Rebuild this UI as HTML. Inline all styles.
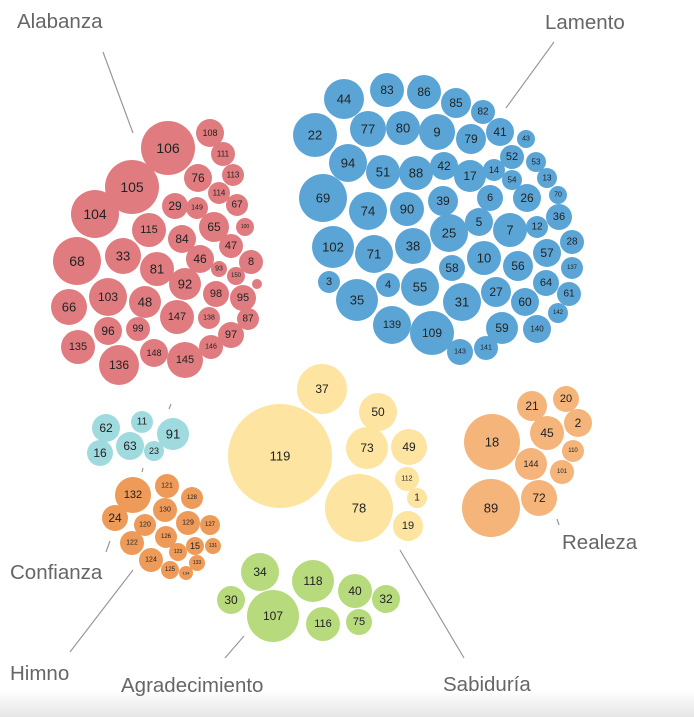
<!DOCTYPE html>
<html><head><meta charset="utf-8"><style>
html,body{margin:0;padding:0;background:#fff;}
svg{display:block;}
text{font-family:"Liberation Sans",sans-serif;}
.n{fill:#222;text-anchor:middle;dominant-baseline:central;}
.l{fill:#666;font-size:20.5px;}
</style></head><body>
<svg width="694" height="717" viewBox="0 0 694 717" xmlns="http://www.w3.org/2000/svg">
<defs><linearGradient id="bg" x1="0" y1="0" x2="0" y2="1"><stop offset="0" stop-color="#fff"/><stop offset="1" stop-color="#e6e6e6"/></linearGradient></defs>
<rect x="0" y="690" width="694" height="27" fill="url(#bg)"/>
<g stroke="#999" stroke-width="1.2">
<line x1="103" y1="52" x2="133" y2="133"/>
<line x1="554" y1="42" x2="506" y2="108"/>
<line x1="106" y1="552" x2="110" y2="541"/>
<line x1="70" y1="652" x2="133" y2="570"/>
<line x1="225" y1="658" x2="244" y2="636"/>
<line x1="400" y1="550" x2="464" y2="658"/>
<line x1="557" y1="519" x2="559" y2="525"/>
<line x1="171" y1="404" x2="169" y2="409"/>
<line x1="143" y1="468" x2="142" y2="472"/>
</g>
<text class="l" x="17" y="28">Alabanza</text>
<text class="l" x="545" y="29">Lamento</text>
<text class="l" x="10" y="579">Confianza</text>
<text class="l" x="10" y="680">Himno</text>
<text class="l" x="121" y="692">Agradecimiento</text>
<text class="l" x="443" y="691">Sabiduría</text>
<text class="l" x="562" y="549">Realeza</text>

<!-- red -->
<g fill="#e07c80">
<circle cx="168" cy="148" r="27"/><circle cx="210" cy="133" r="14"/><circle cx="223" cy="154" r="12"/><circle cx="233" cy="175" r="11"/>
<circle cx="132" cy="187" r="27"/><circle cx="198" cy="178" r="14"/><circle cx="219" cy="193" r="11"/><circle cx="237" cy="205" r="11"/>
<circle cx="95" cy="214" r="24"/><circle cx="175" cy="206" r="13"/><circle cx="197" cy="208" r="11"/><circle cx="214" cy="227" r="15"/><circle cx="245" cy="227" r="9"/>
<circle cx="149" cy="230" r="17"/><circle cx="182" cy="239" r="14"/><circle cx="231" cy="246" r="12"/>
<circle cx="77" cy="261" r="24"/><circle cx="123" cy="256" r="18"/><circle cx="200" cy="259" r="14"/><circle cx="157" cy="269" r="17"/><circle cx="219" cy="269" r="8"/><circle cx="251" cy="262" r="12"/><circle cx="236" cy="276" r="9"/>
<circle cx="185" cy="284" r="16"/><circle cx="257" cy="284" r="5"/><circle cx="108" cy="297" r="19"/><circle cx="69" cy="307" r="18"/><circle cx="145" cy="302" r="16"/><circle cx="216" cy="294" r="13"/><circle cx="243" cy="298" r="13"/>
<circle cx="177" cy="317" r="17"/><circle cx="209" cy="318" r="11"/><circle cx="248" cy="319" r="11"/><circle cx="108" cy="331" r="14"/><circle cx="138" cy="329" r="12"/><circle cx="231" cy="335" r="13"/>
<circle cx="78" cy="347" r="17"/><circle cx="154" cy="353" r="14"/><circle cx="185" cy="360" r="18"/><circle cx="211" cy="347" r="12"/><circle cx="119" cy="365" r="20"/>
</g>
<g class="n">
<text x="168" y="148" font-size="14">106</text><text x="210" y="133" font-size="9">108</text><text x="223" y="154" font-size="8">111</text><text x="233" y="175" font-size="8">113</text>
<text x="132" y="187" font-size="14">105</text><text x="198" y="178" font-size="12">76</text><text x="219" y="193" font-size="8">114</text><text x="237" y="205" font-size="10">67</text>
<text x="95" y="214" font-size="14">104</text><text x="175" y="206" font-size="12">29</text><text x="197" y="208" font-size="7">149</text><text x="214" y="227" font-size="12">65</text><text x="245" y="227" font-size="5">100</text>
<text x="149" y="230" font-size="11">115</text><text x="182" y="239" font-size="12">84</text><text x="231" y="246" font-size="11">47</text>
<text x="77" y="261" font-size="14">68</text><text x="123" y="256" font-size="13">33</text><text x="200" y="259" font-size="12">46</text><text x="157" y="269" font-size="13">81</text><text x="219" y="269" font-size="7">93</text><text x="251" y="262" font-size="11">8</text><text x="236" y="276" font-size="6">150</text>
<text x="185" y="284" font-size="13">92</text><text x="108" y="297" font-size="12">103</text><text x="69" y="307" font-size="13">66</text><text x="145" y="302" font-size="13">48</text><text x="216" y="294" font-size="11">98</text><text x="243" y="298" font-size="11">95</text>
<text x="177" y="317" font-size="11">147</text><text x="209" y="318" font-size="7">138</text><text x="248" y="319" font-size="10">87</text><text x="108" y="331" font-size="12">96</text><text x="138" y="329" font-size="10">99</text><text x="231" y="335" font-size="11">97</text>
<text x="78" y="347" font-size="11">135</text><text x="154" y="353" font-size="9">148</text><text x="185" y="360" font-size="11">145</text><text x="211" y="347" font-size="7">146</text><text x="119" y="365" font-size="12">136</text>
</g>

<!-- blue -->
<g fill="#5ba5d6">
<circle cx="344" cy="99" r="20"/><circle cx="387" cy="90" r="17"/><circle cx="424" cy="92" r="17"/><circle cx="456" cy="103" r="15"/><circle cx="483" cy="112" r="12"/>
<circle cx="315" cy="135" r="22"/><circle cx="368" cy="129" r="18"/><circle cx="403" cy="128" r="17"/><circle cx="437" cy="132" r="18"/><circle cx="471" cy="139" r="15"/><circle cx="500" cy="132" r="14"/><circle cx="526" cy="139" r="9"/>
<circle cx="512" cy="157" r="12"/><circle cx="536" cy="162" r="10"/><circle cx="348" cy="163" r="19"/><circle cx="383" cy="172" r="17"/><circle cx="416" cy="173" r="17"/><circle cx="444" cy="166" r="14"/><circle cx="470" cy="176" r="16"/><circle cx="494" cy="170" r="11"/><circle cx="512" cy="180" r="10"/><circle cx="547" cy="178" r="10"/>
<circle cx="323" cy="198" r="24"/><circle cx="368" cy="211" r="19"/><circle cx="407" cy="209" r="17"/><circle cx="443" cy="201" r="15"/><circle cx="490" cy="198" r="13"/><circle cx="527" cy="198" r="14"/><circle cx="558" cy="195" r="9"/>
<circle cx="479" cy="222" r="14"/><circle cx="449" cy="233" r="19"/><circle cx="510" cy="230" r="17"/><circle cx="537" cy="227" r="11"/><circle cx="559" cy="217" r="13"/>
<circle cx="333" cy="247" r="21"/><circle cx="374" cy="254" r="19"/><circle cx="413" cy="246" r="18"/><circle cx="484" cy="258" r="17"/><circle cx="518" cy="266" r="15"/><circle cx="547" cy="253" r="14"/><circle cx="572" cy="242" r="12"/><circle cx="452" cy="268" r="13"/><circle cx="572" cy="268" r="11"/>
<circle cx="329" cy="282" r="11"/><circle cx="388" cy="285" r="12"/><circle cx="420" cy="287" r="19"/><circle cx="357" cy="300" r="21"/><circle cx="462" cy="302" r="19"/><circle cx="496" cy="292" r="15"/><circle cx="525" cy="302" r="14"/><circle cx="546" cy="283" r="13"/><circle cx="569" cy="294" r="12"/><circle cx="558" cy="313" r="10"/>
<circle cx="392" cy="325" r="19"/><circle cx="432" cy="333" r="22"/><circle cx="502" cy="328" r="16"/><circle cx="537" cy="329" r="14"/><circle cx="460" cy="352" r="13"/><circle cx="486" cy="348" r="12"/>
</g>
<g class="n">
<text x="344" y="99" font-size="13">44</text><text x="387" y="90" font-size="12">83</text><text x="424" y="92" font-size="12">86</text><text x="456" y="103" font-size="12">85</text><text x="483" y="112" font-size="10">82</text>
<text x="315" y="135" font-size="13">22</text><text x="368" y="129" font-size="13">77</text><text x="403" y="128" font-size="13">80</text><text x="437" y="132" font-size="13">9</text><text x="471" y="139" font-size="12">79</text><text x="500" y="132" font-size="12">41</text><text x="526" y="139" font-size="7">43</text>
<text x="512" y="157" font-size="11">52</text><text x="536" y="162" font-size="8">53</text><text x="348" y="163" font-size="13">94</text><text x="383" y="172" font-size="13">51</text><text x="416" y="173" font-size="13">88</text><text x="444" y="166" font-size="12">42</text><text x="470" y="176" font-size="12">17</text><text x="494" y="170" font-size="9">14</text><text x="512" y="180" font-size="8">54</text><text x="547" y="178" font-size="8">13</text>
<text x="323" y="198" font-size="13">69</text><text x="368" y="211" font-size="13">74</text><text x="407" y="209" font-size="13">90</text><text x="443" y="201" font-size="12">39</text><text x="490" y="198" font-size="11">6</text><text x="527" y="198" font-size="12">26</text><text x="558" y="195" font-size="7">70</text>
<text x="479" y="222" font-size="12">5</text><text x="449" y="233" font-size="13">25</text><text x="510" y="230" font-size="13">7</text><text x="537" y="227" font-size="10">12</text><text x="559" y="217" font-size="11">36</text>
<text x="333" y="247" font-size="13">102</text><text x="374" y="254" font-size="13">71</text><text x="413" y="246" font-size="13">38</text><text x="484" y="258" font-size="13">10</text><text x="518" y="266" font-size="12">56</text><text x="547" y="253" font-size="12">57</text><text x="572" y="242" font-size="10">28</text><text x="452" y="268" font-size="12">58</text><text x="572" y="268" font-size="6">137</text>
<text x="329" y="282" font-size="11">3</text><text x="388" y="285" font-size="11">4</text><text x="420" y="287" font-size="13">55</text><text x="357" y="300" font-size="13">35</text><text x="462" y="302" font-size="13">31</text><text x="496" y="292" font-size="12">27</text><text x="525" y="302" font-size="12">60</text><text x="546" y="283" font-size="11">64</text><text x="569" y="294" font-size="10">61</text><text x="558" y="313" font-size="6">142</text>
<text x="392" y="325" font-size="11">139</text><text x="432" y="333" font-size="12">109</text><text x="502" y="328" font-size="12">59</text><text x="537" y="329" font-size="8">140</text><text x="460" y="352" font-size="7">143</text><text x="486" y="348" font-size="7">141</text>
</g>

<!-- teal -->
<g fill="#9fdadf">
<circle cx="106" cy="428" r="14"/><circle cx="142" cy="422" r="11"/><circle cx="173" cy="434" r="16"/><circle cx="100" cy="453" r="13"/><circle cx="130" cy="446" r="14"/><circle cx="154" cy="451" r="10"/>
</g>
<g class="n">
<text x="106" y="428" font-size="12">62</text><text x="142" y="422" font-size="10">11</text><text x="173" y="434" font-size="13">91</text><text x="100" y="453" font-size="12">16</text><text x="130" y="446" font-size="12">63</text><text x="154" y="451" font-size="9">23</text>
</g>

<!-- orange -->
<g fill="#ee9a58">
<circle cx="133" cy="495" r="18"/><circle cx="167" cy="486" r="12"/><circle cx="192" cy="498" r="11"/><circle cx="115" cy="518" r="13"/><circle cx="165" cy="510" r="12"/><circle cx="145" cy="525" r="11"/><circle cx="188" cy="523" r="12"/><circle cx="210" cy="525" r="10"/>
<circle cx="132" cy="543" r="12"/><circle cx="166" cy="537" r="11"/><circle cx="195" cy="546" r="9"/><circle cx="213" cy="546" r="8"/><circle cx="178" cy="552" r="9"/><circle cx="151" cy="560" r="12"/><circle cx="170" cy="570" r="9"/><circle cx="197" cy="563" r="8"/><circle cx="186" cy="573" r="7"/>
</g>
<g class="n">
<text x="133" y="495" font-size="11">132</text><text x="167" y="486" font-size="7">121</text><text x="192" y="498" font-size="6">128</text><text x="115" y="518" font-size="12">24</text><text x="165" y="510" font-size="7">130</text><text x="145" y="525" font-size="7">120</text><text x="188" y="523" font-size="7">129</text><text x="210" y="525" font-size="6">127</text>
<text x="132" y="543" font-size="7">122</text><text x="166" y="537" font-size="6">126</text><text x="195" y="546" font-size="9">15</text><text x="213" y="546" font-size="5">131</text><text x="178" y="552" font-size="5">123</text><text x="151" y="560" font-size="7">124</text><text x="170" y="570" font-size="6">125</text><text x="197" y="563" font-size="5">133</text><text x="186" y="573" font-size="4">134</text>
</g>

<!-- yellow -->
<g fill="#fde4a0">
<circle cx="280" cy="456" r="52"/><circle cx="322" cy="389" r="25"/><circle cx="378" cy="412" r="19"/><circle cx="367" cy="448" r="21"/><circle cx="409" cy="447" r="18"/><circle cx="407" cy="479" r="12"/><circle cx="417" cy="498" r="10"/><circle cx="359" cy="508" r="34"/><circle cx="408" cy="526" r="15"/>
</g>
<g class="n">
<text x="280" y="456" font-size="13">119</text><text x="322" y="389" font-size="12">37</text><text x="378" y="412" font-size="12">50</text><text x="367" y="448" font-size="12">73</text><text x="409" y="447" font-size="12">49</text><text x="407" y="479" font-size="7">112</text><text x="417" y="498" font-size="10">1</text><text x="359" y="508" font-size="13">78</text><text x="408" y="526" font-size="11">19</text>
</g>

<!-- realeza -->
<g fill="#f4b47a">
<circle cx="492" cy="442" r="28"/><circle cx="532" cy="406" r="15"/><circle cx="566" cy="399" r="13"/><circle cx="578" cy="423" r="14"/><circle cx="547" cy="433" r="17"/><circle cx="531" cy="464" r="16"/><circle cx="573" cy="451" r="11"/><circle cx="562" cy="472" r="12"/><circle cx="491" cy="508" r="29"/><circle cx="539" cy="498" r="18"/>
</g>
<g class="n">
<text x="492" y="442" font-size="13">18</text><text x="532" y="406" font-size="12">21</text><text x="566" y="399" font-size="11">20</text><text x="578" y="423" font-size="12">2</text><text x="547" y="433" font-size="12">45</text><text x="531" y="464" font-size="9">144</text><text x="573" y="451" font-size="6">110</text><text x="562" y="472" font-size="6">101</text><text x="491" y="508" font-size="13">89</text><text x="539" y="498" font-size="12">72</text>
</g>

<!-- green -->
<g fill="#b6da7c">
<circle cx="260" cy="572" r="19"/><circle cx="313" cy="581" r="21"/><circle cx="355" cy="591" r="17"/><circle cx="386" cy="599" r="14"/><circle cx="231" cy="600" r="14"/><circle cx="273" cy="616" r="26"/><circle cx="323" cy="624" r="17"/><circle cx="359" cy="622" r="13"/>
</g>
<g class="n">
<text x="260" y="572" font-size="12">34</text><text x="313" y="581" font-size="12">118</text><text x="355" y="591" font-size="12">40</text><text x="386" y="599" font-size="12">32</text><text x="231" y="600" font-size="12">30</text><text x="273" y="616" font-size="12">107</text><text x="323" y="624" font-size="11">116</text><text x="359" y="622" font-size="11">75</text>
</g>
</svg>
</body></html>
